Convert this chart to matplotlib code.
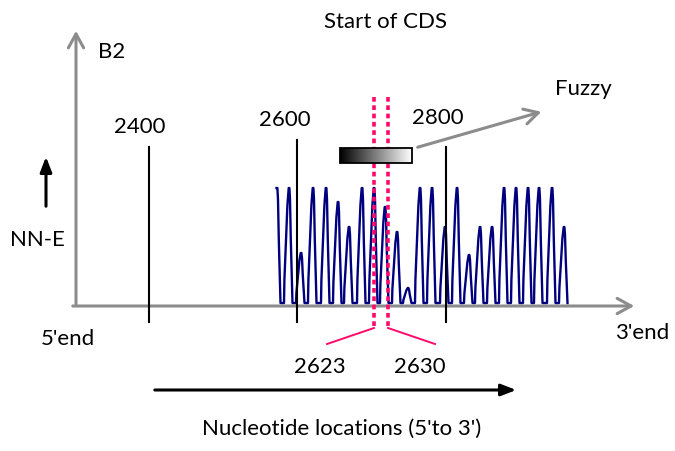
import matplotlib.pyplot as plt
import numpy as np
from matplotlib.patches import Rectangle

plt.rcParams["font.family"] = ["Lato", "DejaVu Sans"]

# Schematic coordinates (x to the right, y downward), baseline of the trace at y=303
BASELINE_Y = 303
PEAK_X = [277, 289, 301, 313, 326, 338, 349, 362, 374, 385, 397, 408, 420,
          432, 445, 457, 469, 480, 492, 504, 516, 528, 539, 552, 564]
PEAK_TOP_Y = [188, 188, 253, 188, 188, 202, 227, 188, 188, 207, 232, 288, 188,
              188, 227, 188, 255, 227, 227, 188, 188, 188, 188, 188, 227]

TICK_LABELS = ["2400", "2600", "2800"]
TICK_X = [149, 297, 446]
TICK_TOP_Y = [147, 140, 147]
TICK_LABEL_XY = [(140, 127), (285, 120), (438, 118)]

CDS_LABELS = ["2623", "2630"]
CDS_X = [374, 388]
CDS_SLANT_X = [327, 435]
CDS_LABEL_X = [320, 420]

BLUE = "#00007f"
PINK = "#ff0a6c"
GRAY = "#8c8c8c"
FS = 16

# relative shape of one peak: (x offset, fraction of height)
PEAK_SHAPE = [(-5.0, 0.0), (-4.6, 0.2), (-3.0, 0.55), (-1.6, 0.85), (-0.8, 0.95),
              (-0.3, 1.0), (0.4, 1.0), (1.0, 0.9), (1.8, 0.55), (2.6, 0.3),
              (3.2, 0.12), (3.5, 0.0)]


def trace_points():
    xs = [PEAK_X[0] - 0.5]
    ys = [PEAK_TOP_Y[0]]
    for i, (px, top) in enumerate(zip(PEAK_X, PEAK_TOP_Y)):
        h = BASELINE_Y - top
        for dx, f in PEAK_SHAPE:
            if i == 0 and dx < 0:
                continue
            xs.append(px + dx)
            ys.append(BASELINE_Y - f * h)
    return xs, ys


fig = plt.figure(figsize=(6.75, 4.51), dpi=100)
ax = fig.add_axes([0, 0, 1, 1])
ax.set_xlim(0, 675)
ax.set_ylim(451, 0)
ax.axis("off")

# gray axes with open arrow heads
arrow_kw = dict(arrowstyle="->,head_length=1.0,head_width=0.55", color=GRAY, lw=2.2)
ax.annotate("", xy=(76, 28), xytext=(76, 307), arrowprops=arrow_kw)
ax.annotate("", xy=(637, 306), xytext=(70, 306), arrowprops=arrow_kw)

# NN-E trace
xs, ys = trace_points()
ax.plot(xs, ys, color=BLUE, lw=1.7, solid_joinstyle="round", zorder=3)

# position markers
for tx, top, label, (lx, ly) in zip(TICK_X, TICK_TOP_Y, TICK_LABELS, TICK_LABEL_XY):
    ax.plot([tx, tx], [top, 322], color="black", lw=1.5, zorder=4)
    ax.text(lx, ly, label, fontsize=FS, ha="center", va="center")

# start of CDS markers
for cx, sx, label, lx in zip(CDS_X, CDS_SLANT_X, CDS_LABELS, CDS_LABEL_X):
    ax.plot([cx, cx], [97, 327], color=PINK, lw=2.6, dashes=(1.3, 1.0), zorder=5)
    ax.plot([cx, sx], [328, 344], color=PINK, lw=1.4)
    ax.text(lx, 367, label, fontsize=FS, ha="center", va="center")

# fuzzy boundary box
grad = np.linspace(0, 1, 256).reshape(1, -1)
ax.imshow(grad, cmap="gray", aspect="auto", extent=[340, 412, 163, 148], zorder=6)
ax.add_patch(Rectangle((340, 148), 72, 15, fill=False, edgecolor="black", lw=1.3, zorder=7))
ax.annotate("", xy=(544, 111), xytext=(415, 148), arrowprops=arrow_kw)

# direction arrows
solid_kw = dict(arrowstyle="-|>,head_length=0.9,head_width=0.35", color="black", lw=2.2)
ax.annotate("", xy=(519, 390), xytext=(152, 390), arrowprops=solid_kw)
ax.annotate("", xy=(46, 154), xytext=(46, 209), arrowprops=solid_kw)

ax.text(386, 22, "Start of CDS", fontsize=FS, ha="center", va="center")
ax.text(555, 89, "Fuzzy", fontsize=FS, ha="left", va="center")
ax.text(98, 52, "B2", fontsize=FS, ha="left", va="center")
ax.text(37, 240, "NN-E", fontsize=FS, ha="center", va="center")
ax.text(41, 339, "5'end", fontsize=FS, ha="left", va="center")
ax.text(615, 333, "3'end", fontsize=FS, ha="left", va="center")
ax.text(342, 429, "Nucleotide locations (5'to 3')", fontsize=FS, ha="center", va="center")

fig.savefig("out.png", dpi=100)
